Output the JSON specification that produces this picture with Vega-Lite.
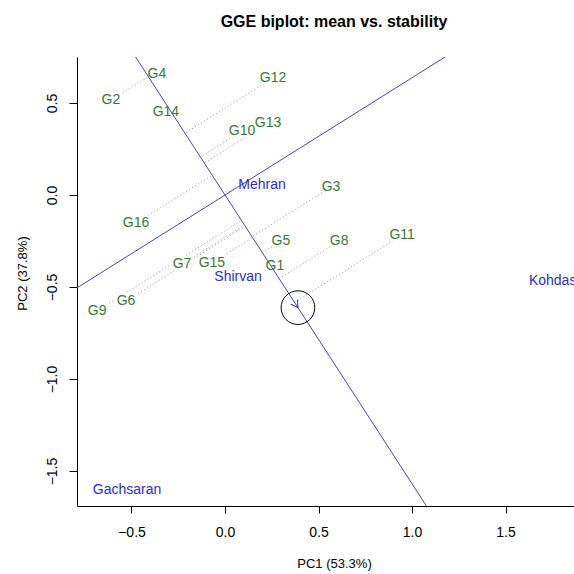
{
  "$schema": "https://vega.github.io/schema/vega-lite/v6.json",
  "autosize": "none",
  "width": 497,
  "height": 449,
  "padding": {"left": 77, "top": 57, "right": 0, "bottom": 68},
  "config": {"view": {"stroke": null}, "font": "Liberation Sans"},
  "title": {"text": "GGE biplot: mean vs. stability", "font": "Liberation Sans", "fontSize": 16, "fontWeight": "bold", "color": "#000000", "anchor": "middle", "frame": "group", "dx": 8.5, "offset": 11, "baseline": "bottom"},
  "datasets": {
    "genotypes": [
      {"name": "G1", "x": 0.267, "y": -0.386, "px": 0.252, "py": -0.3955},
      {"name": "G2", "x": -0.610, "y": 0.516, "px": -0.410, "py": 0.6434},
      {"name": "G3", "x": 0.567, "y": 0.043, "px": 0.1442, "py": -0.2263},
      {"name": "G4", "x": -0.364, "y": 0.658, "px": -0.4033, "py": 0.6329},
      {"name": "G5", "x": 0.299, "y": -0.250, "px": 0.1996, "py": -0.3133},
      {"name": "G6", "x": -0.529, "y": -0.576, "px": 0.1082, "py": -0.1698},
      {"name": "G7", "x": -0.230, "y": -0.375, "px": 0.1035, "py": -0.1624},
      {"name": "G8", "x": 0.610, "y": -0.250, "px": 0.2894, "py": -0.4542},
      {"name": "G9", "x": -0.684, "y": -0.630, "px": 0.0880, "py": -0.1380},
      {"name": "G10", "x": 0.091, "y": 0.348, "px": -0.1314, "py": 0.2063},
      {"name": "G11", "x": 0.947, "y": -0.217, "px": 0.3718, "py": -0.5835},
      {"name": "G12", "x": 0.257, "y": 0.636, "px": -0.2140, "py": 0.3358},
      {"name": "G13", "x": 0.230, "y": 0.391, "px": -0.1108, "py": 0.1738},
      {"name": "G14", "x": -0.316, "y": 0.451, "px": -0.2956, "py": 0.4639},
      {"name": "G15", "x": -0.070, "y": -0.370, "px": 0.1475, "py": -0.2314},
      {"name": "G16", "x": -0.476, "y": -0.152, "px": -0.0686, "py": 0.1076}
    ],
    "environments": [
      {"name": "Mehran", "x": 0.198, "y": 0.054},
      {"name": "Shirvan", "x": 0.070, "y": -0.446},
      {"name": "Kohdasht", "x": 1.783, "y": -0.467},
      {"name": "Gachsaran", "x": -0.524, "y": -1.603}
    ],
    "axes": [
      {"line": "AEC abscissa", "x": -0.6, "y": 0.9415, "x2": 1.2, "y2": -1.883},
      {"line": "AEC ordinate", "x": -0.9, "y": -0.5736, "x2": 1.3, "y2": 0.8285}
    ],
    "aec": [{"x": 0.39, "y": -0.612}]
  },
  "encoding": {
    "x": {"field": "x", "type": "quantitative", "scale": {"domain": [-0.7914, 1.866], "nice": false, "zero": false},
      "axis": {"title": "PC1 (53.3%)", "values": [-0.5, 0, 0.5, 1, 1.5], "format": ".1f", "grid": false,
        "domain": true, "domainColor": "#000000", "domainWidth": 1, "ticks": true, "tickColor": "#000000", "tickSize": 7,
        "labelFont": "Liberation Sans", "labelFontSize": 14, "labelColor": "#000000", "labelPadding": 12, "labelBaseline": "top",
        "titleFont": "Liberation Sans", "titleFontSize": 13, "titleFontWeight": "normal", "titleColor": "#000000",
        "titleX": 257, "titleY": 61, "titleBaseline": "alphabetic", "titleAlign": "center"}},
    "y": {"field": "y", "type": "quantitative", "scale": {"domain": [-1.69, 0.75], "nice": false, "zero": false},
      "axis": {"title": "PC2 (37.8%)", "values": [-1.5, -1, -0.5, 0, 0.5], "format": ".1f", "grid": false,
        "domain": true, "domainColor": "#000000", "domainWidth": 1, "ticks": true, "tickColor": "#000000", "tickSize": 8,
        "labelFont": "Liberation Sans", "labelFontSize": 14, "labelColor": "#000000", "labelAngle": -90, "labelAlign": "center", "labelBaseline": "bottom", "labelPadding": 10,
        "titleFont": "Liberation Sans", "titleFontSize": 13, "titleFontWeight": "normal", "titleColor": "#000000",
        "titleAngle": -90, "titleX": -51, "titleY": 216, "titleBaseline": "alphabetic", "titleAlign": "center"}}
  },
  "layer": [
    {
      "mark": {"type": "rule", "color": "#000000", "strokeWidth": 1},
      "encoding": {"x": null, "y": {"datum": 0.75}}
    },
    {
      "data": {"name": "genotypes"},
      "mark": {"type": "rule", "color": "#8c8c8c", "strokeWidth": 1, "strokeDash": [1, 2.5]},
      "encoding": {"x2": {"field": "px"}, "y2": {"field": "py"}}
    },
    {
      "data": {"name": "genotypes"},
      "mark": {"type": "text", "fontSize": 14, "font": "Liberation Sans", "stroke": "#ffffff", "strokeWidth": 5, "fill": "#ffffff", "baseline": "middle", "align": "center"},
      "encoding": {"text": {"field": "name"}}
    },
    {
      "data": {"name": "axes"},
      "mark": {"type": "rule", "color": "#4545b8", "strokeWidth": 1, "clip": true},
      "encoding": {"x2": {"field": "x2"}, "y2": {"field": "y2"}}
    },
    {
      "data": {"name": "aec"},
      "mark": {"type": "point", "shape": "M-0.58,-1L0,0L0.58,-1", "size": 200, "angle": 327, "filled": false, "stroke": "#2b2bd0", "strokeWidth": 1, "opacity": 1}
    },
    {
      "data": {"name": "aec"},
      "mark": {"type": "point", "shape": "circle", "size": 1134, "filled": false, "stroke": "#000000", "strokeWidth": 1, "opacity": 1}
    },
    {
      "data": {"name": "genotypes"},
      "mark": {"type": "text", "fontSize": 14, "font": "Liberation Sans", "color": "#357a35", "baseline": "middle", "align": "center"},
      "encoding": {"text": {"field": "name"}}
    },
    {
      "data": {"name": "environments"},
      "mark": {"type": "text", "fontSize": 14, "font": "Liberation Sans", "color": "#2b2bd0", "baseline": "middle", "align": "center"},
      "encoding": {"text": {"field": "name"}}
    }
  ]
}
